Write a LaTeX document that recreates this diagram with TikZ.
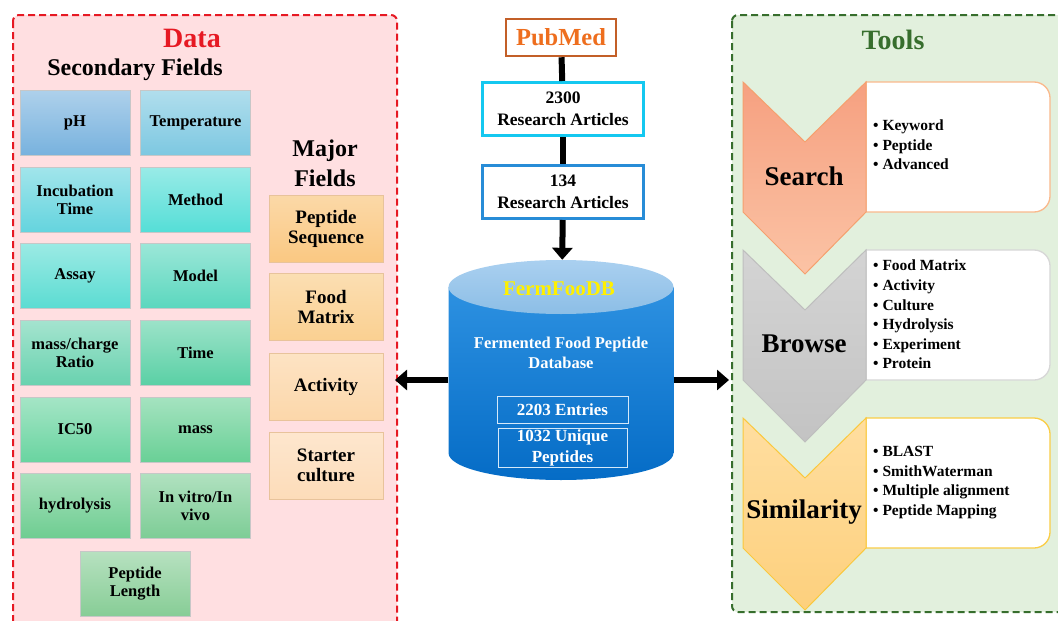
\documentclass[tikz,border=0pt]{standalone}
\usepackage{fontspec}
\setmainfont{Liberation Serif}
\usetikzlibrary{arrows.meta,positioning,calc}
\usepackage{xcolor}
\definecolor{datared}{RGB}{230,25,35}
\definecolor{datafill}{RGB}{255,223,225}
\definecolor{toolgreen}{RGB}{55,110,45}
\definecolor{toolfill}{RGB}{226,240,221}
% secondary field colours (bottom of the gradient)
\definecolor{fldA}{RGB}{120,178,222}
\definecolor{fldB}{RGB}{125,200,225}
\definecolor{fldC}{RGB}{100,212,222}
\definecolor{fldD}{RGB}{85,222,215}
\definecolor{fldE}{RGB}{90,220,210}
\definecolor{fldF}{RGB}{90,215,190}
\definecolor{fldG}{RGB}{105,210,175}
\definecolor{fldH}{RGB}{90,208,165}
\definecolor{fldI}{RGB}{105,212,160}
\definecolor{fldJ}{RGB}{105,208,150}
\definecolor{fldK}{RGB}{110,205,145}
\definecolor{fldL}{RGB}{125,205,150}
\definecolor{fldM}{RGB}{135,205,150}
% major field colours
\definecolor{majA}{RGB}{250,200,130}
\definecolor{majB}{RGB}{250,208,145}
\definecolor{majC}{RGB}{252,215,170}
\definecolor{majD}{RGB}{253,220,185}
\definecolor{majedge}{RGB}{232,195,155}
% centre column
\definecolor{pubedge}{RGB}{195,95,40}
\definecolor{pubtext}{RGB}{238,110,30}
\definecolor{art2300edge}{RGB}{20,200,240}
\definecolor{art134edge}{RGB}{40,140,215}
\definecolor{dbtop}{RGB}{45,145,225}
\definecolor{dbbot}{RGB}{5,108,198}
\definecolor{lidtop}{RGB}{170,208,240}
\definecolor{lidbot}{RGB}{140,190,230}
\definecolor{fermyellow}{RGB}{255,240,0}
% tools
\definecolor{srchA}{RGB}{246,160,128}
\definecolor{srchB}{RGB}{251,195,165}
\definecolor{srchedge}{RGB}{245,160,110}
\definecolor{srchbox}{RGB}{250,185,140}
\definecolor{brwsA}{RGB}{212,212,212}
\definecolor{brwsB}{RGB}{195,195,195}
\definecolor{brwsedge}{RGB}{190,190,190}
\definecolor{brwsbox}{RGB}{215,215,215}
\definecolor{simA}{RGB}{255,222,160}
\definecolor{simB}{RGB}{253,208,125}
\definecolor{simedge}{RGB}{250,200,60}
\definecolor{simbox}{RGB}{250,205,70}
\tikzset{
  panel/.style={dash pattern=on 7pt off 4pt,line width=2pt,rounded corners=6pt},
  title/.style={font=\bfseries\fontsize{28}{30}\selectfont},
  heading/.style={font=\bfseries\fontsize{24}{30}\selectfont,align=center},
  secfield/.style={draw=black!22,line width=.6pt,minimum width=110pt,minimum height=65pt,
                   inner sep=2pt,align=center,font=\bfseries\fontsize{16.5}{18}\selectfont},
  majfield/.style={draw=majedge,line width=.8pt,minimum width=114pt,minimum height=67pt,
                   inner sep=2pt,align=center,font=\bfseries\fontsize{19}{20}\selectfont},
  artbox/.style={draw,fill=white,line width=3pt,minimum width=161pt,minimum height=53pt,
                 align=center,font=\bfseries\fontsize{17.5}{22}\selectfont},
  flow/.style={line width=6pt,draw=black},
  bigarrow/.style={flow,-{Triangle[length=12pt,width=20pt]}},
  dbtext/.style={text=white,font=\bfseries\fontsize{16.5}{20}\selectfont,align=center},
  dbbox/.style={dbtext,draw=white!80!dbtop,line width=.8pt,inner sep=1pt,
                font=\bfseries\fontsize{17}{21}\selectfont},
  toollabel/.style={font=\bfseries\fontsize{27}{30}\selectfont},
  toollist/.style={anchor=west,align=left,inner sep=2pt,font=\bfseries\fontsize{15.5}{19.6}\selectfont},
}

\begin{document}
\begin{tikzpicture}[x=1pt,y=1pt]
  \useasboundingbox (0,0) rectangle (1058,-621);
  \clip (0,0) rectangle (1058,-621);
  % --- panels
  \draw[panel,draw=datared,fill=datafill] (13,-15) rectangle (397,-650);
  \draw[panel,draw=toolgreen,fill=toolfill] (732,-15) rectangle (1090,-612);

  % --- data panel
  \node[title,text=datared] (datatitle) at (192,-38) {Data};
  \node[heading] (sectitle) at (135,-70) {Secondary Fields};
  \node[heading] (majtitle) at (325,-163) {Major\\Fields};
  \foreach \nm/\txt/\x/\y/\c in {
      ph/pH/75/122.5/fldA, temp/Temperature/195.5/122.5/fldB,
      incub/{Incubation\\Time}/75/199.5/fldC, method/Method/195.5/199.5/fldD,
      assay/Assay/75/276/fldE, model/Model/195.5/276/fldF,
      mz/{mass/charge\\Ratio}/75/352.5/fldG, time/Time/195.5/352.5/fldH,
      ic/IC50/75/429.5/fldI, mass/mass/195.5/429.5/fldJ,
      hydro/hydrolysis/75/505.5/fldK, vivo/{In vitro/In\\vivo}/195.5/505.5/fldL,
      plen/{Peptide\\Length}/135/583.5/fldM}
    \node[secfield,top color=\c!60!white,bottom color=\c] (\nm) at (\x,-\y) {\txt};
  \foreach \nm/\txt/\y/\c in {seq/{Peptide\\Sequence}/228.5/majA,
      matrix/{Food\\Matrix}/307/majB, activity/Activity/386.5/majC,
      starter/{Starter\\culture}/465.5/majD}
    \node[majfield,top color=\c!70!white,bottom color=\c] (\nm) at (326,-\y) {\txt};

  % --- centre column
  \node[draw=pubedge,fill=white,line width=2.5pt,minimum width=110pt,minimum height=37pt,
        text=pubtext,font=\bfseries\fontsize{24.5}{26}\selectfont] (pubmed) at (561,-37.5) {PubMed};
  \node[artbox,draw=art2300edge] (art2300) at (563,-109) {2300\\Research Articles};
  \node[artbox,draw=art134edge] (art134) at (563,-192) {134\\Research Articles};
  \node[minimum width=225pt,minimum height=220pt,inner sep=0pt] (db) at (561,-370) {};
  \shade[top color=dbtop,bottom color=dbbot] (448.5,-287) -- (448.5,-453)
    arc[start angle=180,end angle=360,x radius=112.5pt,y radius=27pt] -- (673.5,-287) -- cycle;
  \shade[top color=lidtop,bottom color=lidbot] (561,-287) ellipse[x radius=112.5pt,y radius=27pt];
  \node[text=fermyellow,font=\bfseries\fontsize{21}{24}\selectfont] (dbname) at (559,-289) {FermFooDB};
  \node[dbtext] (dbdesc) at (561,-353) {Fermented Food Peptide\\Database};
  \node[dbbox,minimum width=131pt,minimum height=27pt] (entries) at (562.5,-409.5) {2203 Entries};
  \node[dbbox,minimum width=129pt,minimum height=39pt] (unique) at (562.5,-447.5) {1032 Unique\\Peptides};
  \coordinate (datatip) at (395,-380);
  \coordinate (tooltip) at (729,-380);
  \draw[flow] (pubmed) -- (art2300);
  \draw[flow] (art2300) -- (art134);
  \draw[bigarrow] (art134) -- (db);
  \draw[bigarrow] ([yshift=-10pt]db.west) -- (datatip);
  \draw[bigarrow] ([yshift=-10pt]db.east) -- (tooltip);

  % --- tools panel
  \node[title,text=toolgreen] (tooltitle) at (893,-40) {Tools};
  \foreach \nm/\txt/\t/\fa/\fb/\eg/\bx in {search/Search/82/srchA/srchB/srchedge/srchbox,
      browse/Browse/250/brwsA/brwsB/brwsedge/brwsbox,
      simil/Similarity/418/simA/simB/simedge/simbox}{
    \draw[draw=\bx,line width=1.3pt,fill=white] (866,-\t) -- (1034,-\t)
      arc[start angle=90,end angle=0,radius=16pt] -- (1050,-\t-114)
      arc[start angle=0,end angle=-90,radius=16pt] -- (866,-\t-130) -- cycle;
    \draw[draw=\eg,line width=1pt,top color=\fa,bottom color=\fb] (743,-\t) -- (805,-\t-60)
      -- (866,-\t) -- (866,-\t-130) -- (805,-\t-192) -- (743,-\t-130) -- cycle;
    \node[toollabel] (\nm) at (804,-\t-94) {\txt};
  }
  \node[toollist] (searchlist) at (871,-145)
    {\textbullet\ Keyword\\\textbullet\ Peptide\\\textbullet\ Advanced};
  \node[toollist] (browselist) at (871,-314.5)
    {\textbullet\ Food Matrix\\\textbullet\ Activity\\\textbullet\ Culture\\
     \textbullet\ Hydrolysis\\\textbullet\ Experiment\\\textbullet\ Protein};
  \node[toollist] (simillist) at (871,-482.5)
    {\textbullet\ BLAST\\\textbullet\ SmithWaterman\\\textbullet\ Multiple alignment\\
     \textbullet\ Peptide Mapping};
\end{tikzpicture}
\end{document}
